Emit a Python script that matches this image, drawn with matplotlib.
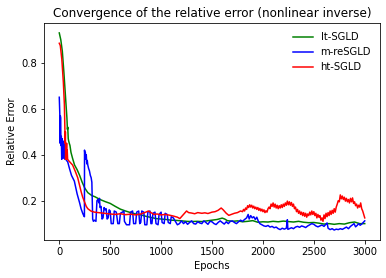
import matplotlib
matplotlib.use('Agg')
import matplotlib.pyplot as plt

# lt-SGLD (green)
lt_epochs = [0, 15, 30, 45, 60, 75, 80, 83, 88, 92, 98, 105, 115, 130, 150, 175, 200, 225, 250, 280,
             320, 350, 400, 450, 500, 550, 600, 650, 700, 750, 800, 850, 900, 950, 1000, 1050, 1100,
             1150, 1200, 1250, 1300, 1350, 1400, 1450, 1500, 1550, 1600, 1625, 1650, 1700, 1750, 1800,
             1850, 1900, 1950, 2000, 2050, 2100, 2150, 2200, 2250, 2300, 2350, 2400, 2450, 2500, 2550,
             2600, 2650, 2700, 2750, 2800, 2850, 2900, 2950, 3000]
lt_err = [0.93, 0.90, 0.85, 0.76, 0.66, 0.56, 0.51, 0.52, 0.47, 0.46, 0.45, 0.44, 0.41, 0.385, 0.355,
          0.335, 0.31, 0.28, 0.255, 0.235, 0.222, 0.217, 0.205, 0.196, 0.188, 0.175, 0.163, 0.155,
          0.148, 0.142, 0.138, 0.132, 0.127, 0.122, 0.120, 0.118, 0.115, 0.114, 0.112, 0.110, 0.109,
          0.110, 0.109, 0.112, 0.115, 0.118, 0.124, 0.120, 0.113, 0.110, 0.112, 0.108, 0.110, 0.113,
          0.106, 0.108, 0.107, 0.110, 0.108, 0.111, 0.109, 0.107, 0.110, 0.106, 0.104, 0.105, 0.102,
          0.098, 0.100, 0.097, 0.100, 0.098, 0.104, 0.107, 0.100, 0.100]

# m-reSGLD (blue)
m_epochs = [0, 5, 8, 10, 14, 16, 20, 24, 28, 32, 36, 40, 44, 48, 52, 56, 62, 70, 82, 100, 120, 148,
            175, 200, 214, 230, 240, 247, 248, 252, 256, 260, 265, 270, 275, 280, 288, 296, 305, 313,
            320, 328, 335, 345, 360, 370, 380, 390, 395, 400, 410, 420, 430, 440, 450, 460, 470, 480,
            490, 500, 510, 530, 540, 560, 575, 590, 600, 620, 635, 640, 660, 690, 700, 720, 730, 750,
            760, 780, 790, 800, 810, 830, 840, 860, 870, 890, 900, 910, 920, 940, 950, 970, 980, 1000,
            1010, 1030, 1040, 1060, 1070, 1090, 1100, 1120, 1140, 1160, 1180,
            1200, 1220, 1240, 1260, 1280, 1300, 1320, 1340, 1360, 1380, 1400, 1420, 1440, 1460, 1480,
            1500, 1520, 1540, 1560, 1580, 1600, 1620, 1640, 1660, 1680, 1700, 1720, 1740, 1760, 1780,
            1800, 1820, 1840, 1855, 1865, 1880, 1895, 1910, 1925, 1940, 1955, 1970, 1990, 2010, 2030,
            2050, 2070, 2090, 2110, 2130, 2150, 2170, 2190, 2210, 2230, 2240, 2245, 2260, 2280, 2300,
            2320, 2340, 2360, 2380, 2400, 2420, 2440, 2460, 2480, 2500, 2520, 2540, 2560, 2580, 2600,
            2620, 2630, 2640, 2660, 2680, 2700, 2720, 2740, 2760, 2780, 2800, 2820, 2840, 2860, 2880,
            2895, 2910, 2925, 2940, 2955, 2970, 2985, 3000]
m_err = [0.65, 0.58, 0.45, 0.57, 0.56, 0.44, 0.48, 0.38, 0.47, 0.40, 0.46, 0.385, 0.45, 0.40, 0.43,
         0.38, 0.40, 0.375, 0.37, 0.34, 0.31, 0.285, 0.23, 0.19, 0.165, 0.145, 0.135, 0.13, 0.42,
         0.40, 0.41, 0.38, 0.40, 0.36, 0.375, 0.355, 0.34, 0.33, 0.31, 0.30, 0.28, 0.12, 0.11, 0.115,
         0.11, 0.20, 0.205, 0.19, 0.21, 0.17, 0.175, 0.12, 0.125, 0.17, 0.16, 0.165, 0.12, 0.125,
         0.16, 0.155, 0.10, 0.10, 0.155, 0.15, 0.10, 0.10, 0.145, 0.15, 0.155, 0.11, 0.095, 0.095,
         0.15, 0.155, 0.10, 0.10, 0.15, 0.155, 0.10, 0.105, 0.155, 0.15, 0.095, 0.095, 0.15, 0.155,
         0.10, 0.10, 0.145, 0.15, 0.10, 0.095, 0.14, 0.15, 0.105, 0.10, 0.145, 0.14, 0.105, 0.10,
         0.13, 0.125, 0.11, 0.095, 0.10,
         0.112, 0.100, 0.108, 0.097, 0.105, 0.112, 0.100, 0.098, 0.108, 0.103, 0.100, 0.112, 0.105,
         0.097, 0.110, 0.108, 0.100, 0.096, 0.105, 0.112, 0.105, 0.098, 0.108, 0.100, 0.110, 0.112,
         0.105, 0.100, 0.108, 0.115, 0.110, 0.118, 0.125, 0.140, 0.120, 0.135, 0.125, 0.130, 0.118,
         0.128, 0.110, 0.100, 0.095, 0.090, 0.088, 0.092, 0.085, 0.088, 0.082, 0.085, 0.078, 0.074,
         0.080, 0.076, 0.080, 0.117, 0.075, 0.078, 0.082, 0.078, 0.085, 0.088, 0.084, 0.090, 0.087,
         0.083, 0.090, 0.095, 0.100, 0.097, 0.090, 0.086, 0.090, 0.094, 0.088, 0.098, 0.103, 0.080,
         0.074, 0.078, 0.072, 0.076, 0.074, 0.078, 0.075, 0.080, 0.085, 0.078, 0.088, 0.095, 0.100,
         0.086, 0.092, 0.100, 0.093, 0.098, 0.105, 0.112]

# ht-SGLD (red): irregular sampling up to 1780, then every 10 epochs
ht_epochs = [0, 10, 25, 40, 50, 55, 58, 60, 62, 65, 68, 72, 75, 78, 82, 90, 110, 131, 155, 181, 200,
             214, 230, 247, 265, 280, 310, 345, 400, 444, 500, 550, 600, 650, 700, 750, 800, 850, 875,
             900, 930, 960, 1000, 1040, 1080, 1120, 1160, 1184, 1200, 1230, 1250, 1270,
             1300, 1330, 1360, 1400, 1430, 1460, 1500, 1530, 1560, 1590, 1610, 1640, 1665, 1690, 1720,
             1750, 1780] + list(range(1800, 3001, 10))
ht_err = [0.885, 0.875, 0.815, 0.715, 0.62, 0.52, 0.45, 0.50, 0.38, 0.43, 0.39, 0.45, 0.38, 0.42,
          0.38, 0.375, 0.365, 0.355, 0.33, 0.30, 0.265, 0.24, 0.215, 0.195, 0.175, 0.165, 0.155, 0.15,
          0.147, 0.145, 0.142, 0.140, 0.143, 0.139, 0.141, 0.138, 0.142, 0.150, 0.155, 0.148, 0.140,
          0.142, 0.138, 0.140, 0.137, 0.133, 0.128, 0.122, 0.130, 0.145, 0.155, 0.148,
          0.146, 0.143, 0.148, 0.145, 0.147, 0.144, 0.150, 0.152, 0.158, 0.168, 0.160, 0.145, 0.136,
          0.140, 0.145, 0.148, 0.155,
          0.152, 0.162, 0.155, 0.168, 0.162, 0.178, 0.170, 0.182, 0.172, 0.180,
          0.168, 0.176, 0.165, 0.172, 0.162, 0.170, 0.158, 0.166, 0.155, 0.163,
          0.152, 0.160, 0.148, 0.156, 0.150, 0.165, 0.172, 0.165, 0.185, 0.175,
          0.190, 0.172, 0.185, 0.168, 0.180, 0.165, 0.178, 0.168, 0.182, 0.170,
          0.185, 0.175, 0.190, 0.180, 0.198, 0.182, 0.195, 0.180, 0.192, 0.175,
          0.185, 0.165, 0.172, 0.152, 0.162, 0.145, 0.155, 0.140, 0.150, 0.135,
          0.148, 0.132, 0.145, 0.128, 0.142, 0.135, 0.150, 0.138, 0.155, 0.140,
          0.152, 0.135, 0.145, 0.125, 0.140, 0.128, 0.135, 0.115, 0.125, 0.110,
          0.138, 0.122, 0.145, 0.130, 0.148, 0.135, 0.155, 0.140, 0.158, 0.145,
          0.165, 0.150, 0.172, 0.185, 0.200, 0.195, 0.225, 0.208, 0.220, 0.205,
          0.215, 0.198, 0.210, 0.195, 0.205, 0.190, 0.210, 0.195, 0.212, 0.188,
          0.195, 0.178, 0.185, 0.168, 0.180, 0.172, 0.190, 0.165, 0.155, 0.140,
          0.125]

fig = plt.figure(figsize=(386 / 72, 278 / 72), dpi=72)
ax = fig.add_axes([0.114, 0.137, 0.8705, 0.780])

ax.plot(lt_epochs, lt_err, color='green', label='lt-SGLD')
ax.plot(m_epochs, m_err, color='blue', label='m-reSGLD')
ax.plot(ht_epochs, ht_err, color='red', label='ht-SGLD')

ax.set_title('Convergence of the relative error (nonlinear inverse)', fontsize=12)
ax.set_xlabel('Epochs')
ax.set_ylabel('Relative Error')
ax.set_xticks([0, 500, 1000, 1500, 2000, 2500, 3000])
ax.set_yticks([0.2, 0.4, 0.6, 0.8])
ax.legend(loc='upper right', frameon=False)

fig.savefig('out.png', dpi=72)
